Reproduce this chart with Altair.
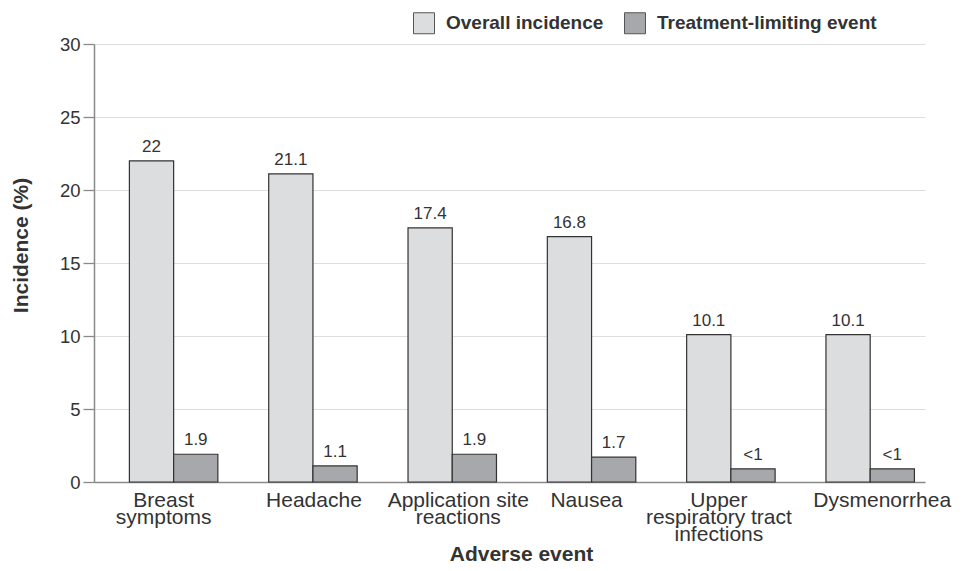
import altair as alt
import pandas as pd

categories = ["Breast|symptoms", "Headache", "Application site|reactions", "Nausea",
              "Upper|respiratory tract|infections", "Dysmenorrhea"]
series = ["Overall incidence", "Treatment-limiting event"]
overall = [22, 21.1, 17.4, 16.8, 10.1, 10.1]
treatment = [1.9, 1.1, 1.9, 1.7, 0.9, 0.9]
overall_labels = ["22", "21.1", "17.4", "16.8", "10.1", "10.1"]
treatment_labels = ["1.9", "1.1", "1.9", "1.7", "<1", "<1"]
y_ticks = [0, 5, 10, 15, 20, 25, 30]
colors = ["#dcdddf", "#a7a8ab"]
label_shift = [-10, 1, 6, -5, -12, 12]

rows = []
for c, v, l in zip(categories, overall, overall_labels):
    rows.append({"cat": c, "series": series[0], "value": v, "label": l})
for c, v, l in zip(categories, treatment, treatment_labels):
    rows.append({"cat": c, "series": series[1], "value": v, "label": l})
df = pd.DataFrame(rows)

FONT = "Liberation Sans"
TXT = "#333333"
AX = "#8a8a8a"

offset_cond = {
    "condition": [{"test": f"datum.value == '{c}'", "value": s}
                  for c, s in zip(categories, label_shift)],
    "value": 0,
}

x = alt.X("cat:N", sort=categories, title="Adverse event",
          scale=alt.Scale(paddingInner=0.365, paddingOuter=0.165, align=0.77),
          axis=alt.Axis(labelAngle=0, ticks=False, labelPadding=7,
                        labelExpr="split(datum.value, '|')",
                        labelOffset=offset_cond,
                        labelFontSize=21, labelLineHeight=17, labelColor=TXT,
                        labelFont=FONT, labelBaseline="top",
                        domainColor=AX, domainWidth=1.5,
                        titleFont=FONT, titleFontSize=21, titleFontWeight="bold",
                        titleColor=TXT, titleX=427, titleY=78,
                        titleBaseline="alphabetic", titleAlign="center", grid=False))
xo = alt.XOffset("series:N", sort=series,
                 scale=alt.Scale(paddingInner=0, paddingOuter=0))
y = alt.Y("value:Q", title="Incidence (%)",
          scale=alt.Scale(domain=[0, 30], nice=False),
          axis=alt.Axis(values=y_ticks, tickSize=11, tickColor=AX, tickWidth=1.3,
                        domainColor=AX, domainWidth=1.5, labelPadding=3,
                        labelFontSize=18.5, labelColor=TXT, labelFont=FONT,
                        gridColor="#dedede", gridWidth=1,
                        titleFont=FONT, titleFontSize=21, titleFontWeight="bold",
                        titleColor=TXT, titleX=-73, titleY=201,
                        titleBaseline="middle", titleAlign="center", titleAngle=-90))

bars = alt.Chart(df).mark_bar(stroke="#333333", strokeWidth=1.2).encode(
    x=x, xOffset=xo, y=y,
    color=alt.Color("series:N", sort=series,
                    scale=alt.Scale(domain=series, range=colors),
                    legend=alt.Legend(title=None, orient="none", legendX=319, legendY=-32,
                                      direction="horizontal", symbolType="square",
                                      symbolSize=441, symbolStrokeColor="#555555",
                                      symbolStrokeWidth=1, symbolOpacity=1,
                                      labelFont=FONT, labelFontSize=19,
                                      labelFontWeight="bold", labelColor=TXT,
                                      labelOffset=11, columnPadding=18,
                                      labelLimit=400)),
)

labels = alt.Chart(df).mark_text(baseline="bottom", dy=-5, fontSize=17,
                                 font=FONT, color=TXT).encode(
    x=alt.X("cat:N", sort=categories), xOffset=xo, y="value:Q", text="label:N"
)

chart = alt.layer(bars, labels).properties(
    width=831, height=438,
    autosize=alt.AutoSizeParams(type="none"),
    padding={"left": 86, "top": 36, "right": 30, "bottom": 81},
).configure_view(stroke=None)

chart.save("out.html", embed_options={"renderer": "svg", "actions": False})
